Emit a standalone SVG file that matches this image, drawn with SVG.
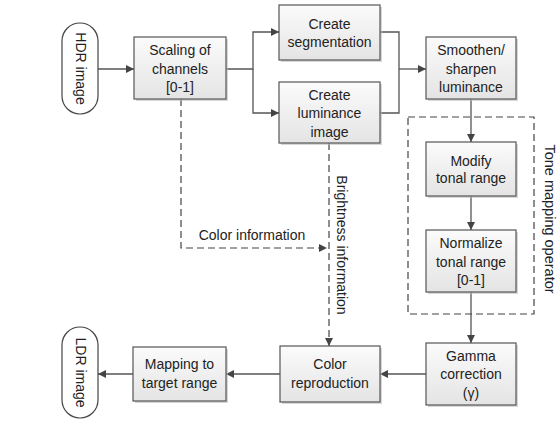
<svg xmlns="http://www.w3.org/2000/svg" width="560" height="421" viewBox="0 0 560 421">
<defs>
  <linearGradient id="boxfill" x1="0" y1="0" x2="0" y2="1">
    <stop offset="0" stop-color="#fbfbfb"/>
    <stop offset="1" stop-color="#e4e4e4"/>
  </linearGradient>
  <marker id="arr" viewBox="0 0 10 10" refX="10" refY="5" markerWidth="9" markerHeight="8" markerUnits="userSpaceOnUse" orient="auto">
    <path d="M0,0 L10,5 L0,10 Z" fill="#444"/>
  </marker>
  <style>
    .box { fill: url(#boxfill); stroke: #555; stroke-width: 1.2; }
    .shadow { fill: #bdbdbd; opacity: 0.6; }
    .pill { fill: #fff; stroke: #444; stroke-width: 1.2; }
    .t { font-family: "Liberation Sans", Arial, sans-serif; font-size: 14px; fill: #222; text-anchor: middle; }
    .lbl { font-family: "Liberation Sans", Arial, sans-serif; font-size: 14px; fill: #222; text-anchor: middle; }
    .con { fill: none; stroke: #555; stroke-width: 1.3; }
    .arrow { marker-end: url(#arr); }
    .dash { fill: none; stroke: #444; stroke-width: 1.2; stroke-dasharray: 7 4; }
  </style>
</defs>
<rect width="560" height="421" fill="#fff"/>

<g id="connectors">
  <path class="con arrow" d="M98,69 H134"/>
  <path class="con arrow" d="M226,69 H253 V32 H279"/>
  <path class="con arrow" d="M253,69 V113 H279"/>
  <path class="con" d="M380,32 H399 V113 H380"/>
  <path class="con arrow" d="M399,69 H426"/>
  <path class="con arrow" d="M471,99 V142"/>
  <path class="con arrow" d="M471,196 V230"/>
  <path class="con arrow" d="M471,292 V343"/>
  <path class="con arrow" d="M426,374 H380"/>
  <path class="con arrow" d="M280,374 H226"/>
  <path class="con arrow" d="M133,374 H98"/>
  <path class="dash arrow" d="M181,99 V248 H327"/>
  <path class="dash arrow" d="M329,143 V346"/>
  <text class="lbl" x="252" y="240">Color information</text>
  <text class="lbl" transform="translate(337,245) rotate(90)" x="0" y="0">Brightness information</text>
</g>

<g id="tone-mapping-operator">
  <rect class="dash" x="408" y="117" width="126" height="197"/>
  <text class="lbl" transform="translate(545,219) rotate(90)" x="0" y="0" style="font-size:14.5px">Tone mapping operator</text>
</g>

<g id="hdr-image">
  <rect class="pill" x="62" y="23" width="36" height="91" rx="18" ry="18"/>
  <text class="t" transform="translate(75.5,68.5) rotate(90)" x="0" y="0">HDR image</text>
</g>

<g id="scaling">
  <rect class="shadow" x="136" y="39" width="92" height="62"/>
  <rect class="box" x="134" y="37" width="92" height="62"/>
  <text class="t" x="180" y="55">Scaling of</text>
  <text class="t" x="180" y="73.5">channels</text>
  <text class="t" x="180" y="92">[0-1]</text>
</g>

<g id="create-segmentation">
  <rect class="shadow" x="281" y="7" width="101" height="55"/>
  <rect class="box" x="279" y="5" width="101" height="55"/>
  <text class="t" x="329.5" y="28.5">Create</text>
  <text class="t" x="329.5" y="47">segmentation</text>
</g>

<g id="create-luminance">
  <rect class="shadow" x="281" y="84" width="101" height="61"/>
  <rect class="box" x="279" y="82" width="101" height="61"/>
  <text class="t" x="329.5" y="99.5">Create</text>
  <text class="t" x="329.5" y="118">luminance</text>
  <text class="t" x="329.5" y="136.5">image</text>
</g>

<g id="smoothen">
  <rect class="shadow" x="428" y="39" width="90" height="62"/>
  <rect class="box" x="426" y="37" width="90" height="62"/>
  <text class="t" x="471" y="55">Smoothen/</text>
  <text class="t" x="471" y="73.5">sharpen</text>
  <text class="t" x="471" y="92">luminance</text>
</g>

<g id="modify">
  <rect class="shadow" x="428" y="144" width="90" height="54"/>
  <rect class="box" x="426" y="142" width="90" height="54"/>
  <text class="t" x="471" y="165.5">Modify</text>
  <text class="t" x="471" y="183">tonal range</text>
</g>

<g id="normalize">
  <rect class="shadow" x="428" y="232" width="90" height="62"/>
  <rect class="box" x="426" y="230" width="90" height="62"/>
  <text class="t" x="471" y="248">Normalize</text>
  <text class="t" x="471" y="266.5">tonal range</text>
  <text class="t" x="471" y="285">[0-1]</text>
</g>

<g id="gamma">
  <rect class="shadow" x="428" y="345" width="90" height="62"/>
  <rect class="box" x="426" y="343" width="90" height="62"/>
  <text class="t" x="471" y="360.5">Gamma</text>
  <text class="t" x="471" y="379">correction</text>
  <text class="t" x="471" y="397.5">(γ)</text>
</g>

<g id="color-reproduction">
  <rect class="shadow" x="282" y="348" width="100" height="56"/>
  <rect class="box" x="280" y="346" width="100" height="56"/>
  <text class="t" x="330" y="369">Color</text>
  <text class="t" x="330" y="387.5">reproduction</text>
</g>

<g id="mapping">
  <rect class="shadow" x="135" y="349" width="93" height="54"/>
  <rect class="box" x="133" y="347" width="93" height="54"/>
  <text class="t" x="179.5" y="369">Mapping to</text>
  <text class="t" x="179.5" y="387.5">target range</text>
</g>

<g id="ldr-image">
  <rect class="pill" x="62" y="327" width="36" height="91" rx="18" ry="18"/>
  <text class="t" transform="translate(75.5,372.5) rotate(90)" x="0" y="0">LDR image</text>
</g>
</svg>
